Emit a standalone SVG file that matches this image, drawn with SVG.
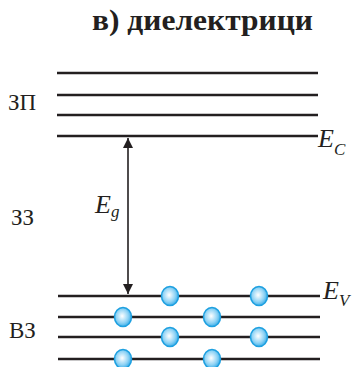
<svg xmlns="http://www.w3.org/2000/svg" width="358" height="367" viewBox="0 0 358 367">
<style>
.lvl{stroke:#231f20;stroke-width:2.6;fill:none}
.t{font-family:'Liberation Serif','Times New Roman','DejaVu Serif',serif;fill:#231f20}
.it{font-family:'Liberation Serif','Times New Roman','DejaVu Serif',serif;font-style:italic;fill:#231f20}
.e{fill:url(#g);stroke:#1ea0e0;stroke-width:1.5}
</style>
<defs>
<radialGradient id="g" cx="0.45" cy="0.45" r="0.6">
<stop offset="0" stop-color="#ffffff"/>
<stop offset="0.6" stop-color="#8fd3f5"/>
<stop offset="1" stop-color="#2aa6e6"/>
</radialGradient>
<marker id="ah" viewBox="0 0 10 10" refX="10" refY="5" markerWidth="10" markerHeight="10" markerUnits="userSpaceOnUse" orient="auto-start-reverse">
<path d="M0,0 L10,5 L0,10 Z" fill="#231f20"/>
</marker>
</defs>
<text class="t" x="92" y="30" font-size="29" font-weight="bold" textLength="221" lengthAdjust="spacingAndGlyphs">в) диелектрици</text>
<g id="conduction-band">
<line class="lvl" x1="57" y1="73" x2="318" y2="73"/>
<line class="lvl" x1="57" y1="95" x2="318" y2="95"/>
<line class="lvl" x1="57" y1="115" x2="318" y2="115"/>
<line class="lvl" x1="57" y1="136" x2="318" y2="136"/>
<text class="t" x="8" y="110" font-size="23">ЗП</text>
<text class="it" x="318" y="147" font-size="26">E<tspan font-size="17" dy="8">C</tspan></text>
</g>
<g id="gap">
<text class="t" x="11" y="225" font-size="23">ЗЗ</text>
<text class="it" x="95" y="213" font-size="26">E<tspan font-size="17" dy="4">g</tspan></text>
</g>
<g id="valence-band">
<line class="lvl" x1="58" y1="296" x2="320" y2="296"/>
<line class="lvl" x1="58" y1="317" x2="320" y2="317"/>
<line class="lvl" x1="58" y1="337" x2="320" y2="337"/>
<line class="lvl" x1="58" y1="359" x2="320" y2="359"/>
<text class="t" x="9" y="338" font-size="23">ВЗ</text>
<text class="it" x="323" y="299" font-size="26">E<tspan font-size="17" dy="7">V</tspan></text>
</g>
<g id="electrons">
<ellipse class="e" cx="170" cy="296" rx="8.5" ry="9.5"/>
<ellipse class="e" cx="259" cy="296" rx="8.5" ry="9.5"/>
<ellipse class="e" cx="123" cy="317" rx="8.5" ry="9.5"/>
<ellipse class="e" cx="212" cy="317" rx="8.5" ry="9.5"/>
<ellipse class="e" cx="170" cy="337" rx="8.5" ry="9.5"/>
<ellipse class="e" cx="259" cy="337" rx="8.5" ry="9.5"/>
<ellipse class="e" cx="123" cy="359" rx="8.5" ry="9.5"/>
<ellipse class="e" cx="212" cy="359" rx="8.5" ry="9.5"/>
</g>
<g id="connectors">
<line x1="128" y1="138" x2="128" y2="294" stroke="#231f20" stroke-width="1.6" marker-start="url(#ah)" marker-end="url(#ah)"/>
</g>
</svg>
